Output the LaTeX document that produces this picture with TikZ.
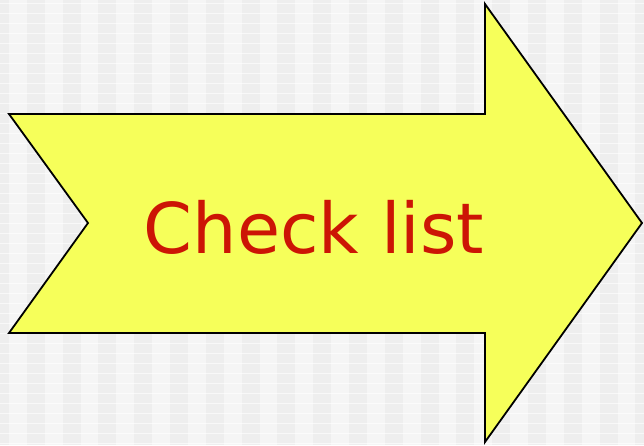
\documentclass[tikz,border=0pt]{standalone}
\usepackage{fontspec}
\setmainfont{DejaVu Sans}
\usetikzlibrary{positioning}
\definecolor{arrowfill}{HTML}{F6FF5A}
\definecolor{labelred}{HTML}{CC1505}
\definecolor{stripea}{HTML}{EEEEEE}
\definecolor{stripeb}{HTML}{F5F5F5}

\begin{document}
\begin{tikzpicture}[x=1pt, y=-1pt,
      bigarrow/.style={draw=black, line width=1.8pt, fill=arrowfill, line join=miter},
      lbl/.style={text=labelred, font=\fontsize{70}{80}\selectfont, inner sep=0pt}]
    \useasboundingbox (0,0) rectangle (644,445);
    % background
    \fill[stripeb] (0,0) rectangle (644,445);
    \foreach \i in {0,...,18}
      \fill[stripea] ({\i*35.8-9},0) rectangle ({\i*35.8+9},445);
    \foreach \j in {0,...,44}
      \draw[white, line width=0.6pt, opacity=0.6] (0,{\j*10+3}) -- (644,{\j*10+3});
    % arrow
    \draw[bigarrow] (9,114) -- (485,114) -- (485,4) -- (642,223) -- (485,442)
      -- (485,333) -- (9,333) -- (88,223) -- cycle;
    \node[lbl, anchor=base] (title) at (314,253) {Check list};
  \end{tikzpicture}
\end{document}
